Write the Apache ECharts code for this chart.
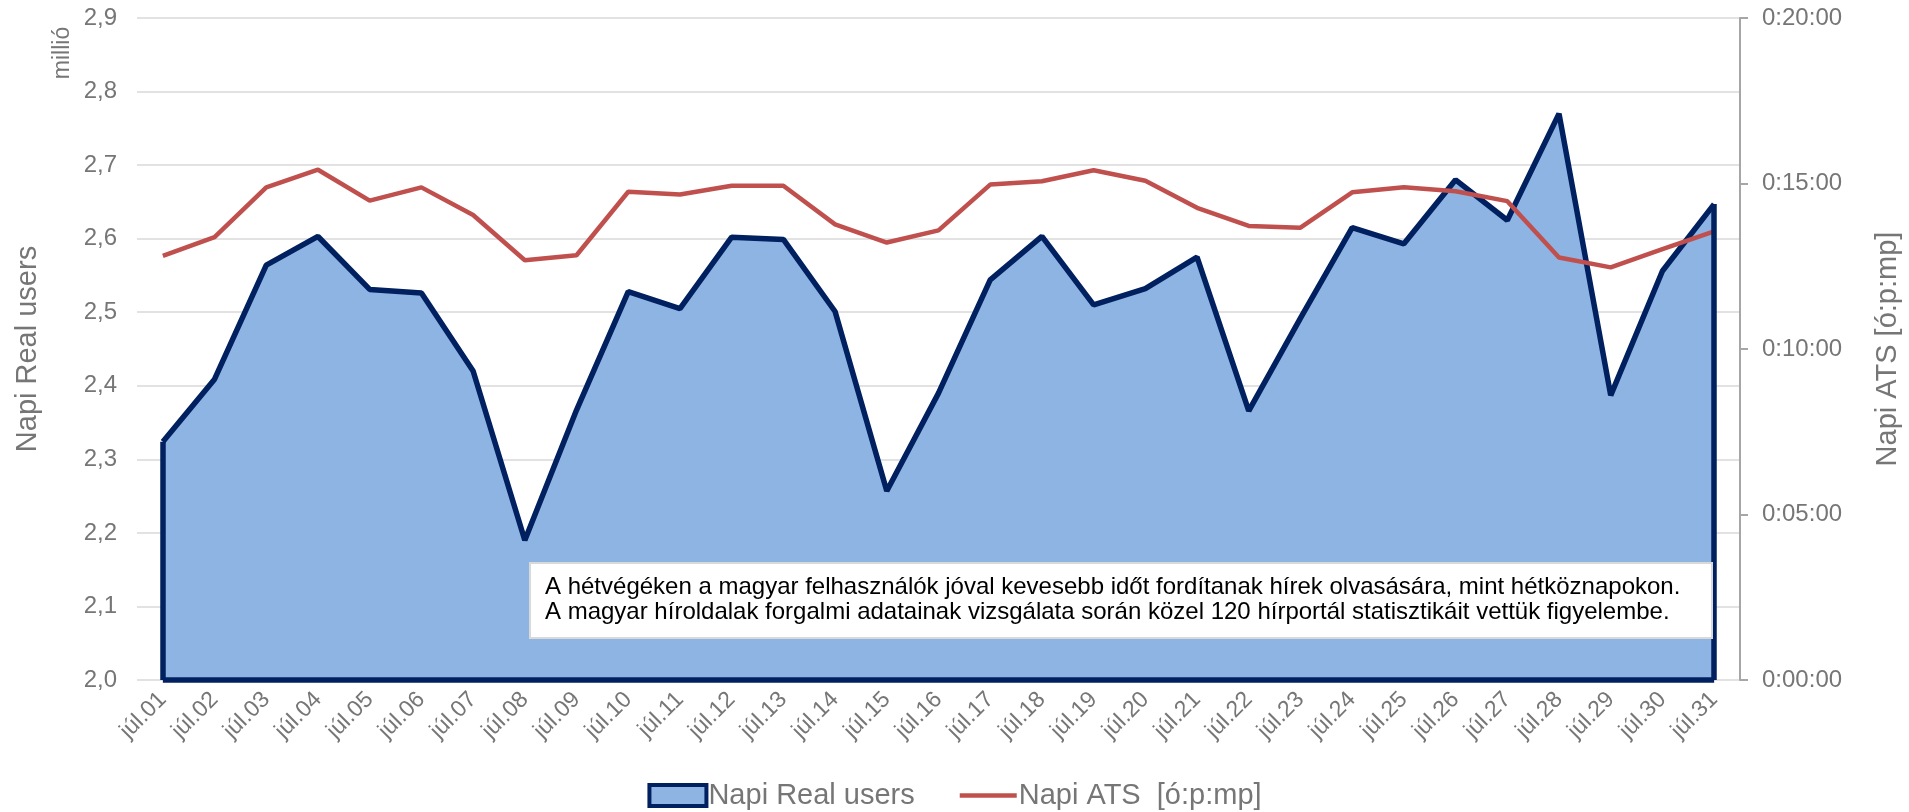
<!DOCTYPE html>
<html lang="hu">
<head>
<meta charset="UTF-8">
<title>Napi Real users / ATS</title>
<script src="https://cdn.jsdelivr.net/npm/echarts@6/dist/echarts.min.js"></script>
<style>
    html, body { margin: 0; padding: 0; background: #fff; }
    #chart { width: 1909px; height: 812px; }
</style>
</head>
<body>
<div id="chart"></div>
<script type="text/javascript">
    // július napjai
    let days = ['júl.01', 'júl.02', 'júl.03', 'júl.04', 'júl.05', 'júl.06', 'júl.07', 'júl.08', 'júl.09', 'júl.10',
        'júl.11', 'júl.12', 'júl.13', 'júl.14', 'júl.15', 'júl.16', 'júl.17', 'júl.18', 'júl.19', 'júl.20',
        'júl.21', 'júl.22', 'júl.23', 'júl.24', 'júl.25', 'júl.26', 'júl.27', 'júl.28', 'júl.29', 'júl.30', 'júl.31'];
    // napi real users, millió
    let realUsers = [2.324, 2.409, 2.564, 2.603, 2.531, 2.526, 2.420, 2.190, 2.367, 2.528,
        2.505, 2.602, 2.599, 2.501, 2.257, 2.390, 2.544, 2.603, 2.510, 2.532,
        2.575, 2.366, 2.492, 2.615, 2.593, 2.680, 2.625, 2.770, 2.387, 2.556, 2.647];
    // napi ATS, másodperc
    let atsSeconds = [769, 803, 893, 925, 869, 893, 843, 761, 770, 885,
        880, 896, 896, 826, 793, 815, 898, 904, 924, 905,
        856, 823, 820, 884, 893, 886, 868, 766, 748, 781, 813];
    let usersMin = 2.0;
    let usersMax = 2.9;
    let atsMax = 1200;

    let noteLines = [
        'A hétvégéken a magyar felhasználók jóval kevesebb időt fordítanak hírek olvasására, mint hétköznapokon.',
        'A magyar híroldalak forgalmi adatainak vizsgálata során közel 120 hírportál statisztikáit vettük figyelembe.'
    ];

    let font = '"Liberation Sans", Arial, sans-serif';
    let grey = '#767676';

    function pad(n) {
        return (n < 10 ? '0' : '') + n;
    }

    function toHms(v) {
        return Math.floor(v / 3600) + ':' + pad(Math.floor((v % 3600) / 60)) + ':' + pad(v % 60);
    }

    let chart = echarts.init(document.getElementById('chart'));
    let last = days.length - 1;

    let option = {
        backgroundColor: '#fff',
        animation: false,
        textStyle: {fontFamily: font},
        grid: {
            left: 137,
            right: 169,
            top: 18,
            bottom: 132,
            outerBoundsMode: 'none'
        },
        legend: {
            top: 776,
            left: 'center',
            itemWidth: 57,
            itemHeight: 21,
            itemGap: 45,
            textStyle: {color: grey, fontSize: 29, fontFamily: font, padding: [0, 0, 0, -3]},
            data: [
                {
                    name: 'Napi Real users',
                    icon: 'rect',
                    itemStyle: {color: '#8eb4e3', borderColor: '#002060', borderWidth: 4}
                },
                {
                    name: 'Napi ATS  [ó:p:mp]',
                    icon: 'path://M0,0 L57,0 L57,4.5 L0,4.5 Z',
                    itemStyle: {color: '#c0504d', borderWidth: 0}
                }
            ]
        },
        xAxis: {
            type: 'category',
            boundaryGap: true,
            data: days,
            axisLine: {show: false},
            axisTick: {show: false},
            axisLabel: {
                rotate: 45,
                interval: 0,
                margin: 16,
                color: grey,
                fontSize: 23,
                fontFamily: font
            }
        },
        yAxis: [
            {
                type: 'value',
                min: usersMin,
                max: usersMax,
                interval: 0.1,
                name: 'Napi Real users',
                nameLocation: 'middle',
                nameRotate: 90,
                nameGap: 95,
                nameTextStyle: {color: grey, fontSize: 29, fontFamily: font},
                axisLine: {show: false},
                axisTick: {show: false},
                axisLabel: {
                    color: grey,
                    fontSize: 24,
                    fontFamily: font,
                    margin: 20,
                    formatter: function (v) {
                        return v.toFixed(1).replace('.', ',');
                    }
                },
                splitLine: {lineStyle: {color: '#d9d9d9', width: 1.5}}
            },
            {
                type: 'value',
                min: 0,
                max: atsMax,
                interval: 300,
                position: 'right',
                name: 'Napi ATS [ó:p:mp]',
                nameLocation: 'middle',
                nameRotate: 90,
                nameGap: 133,
                nameTextStyle: {color: grey, fontSize: 29, fontFamily: font},
                axisLine: {show: true, lineStyle: {color: '#a6a6a6', width: 2}},
                axisTick: {show: true, inside: false, length: 8, lineStyle: {color: '#a6a6a6', width: 2}},
                axisLabel: {
                    color: grey,
                    fontSize: 24,
                    fontFamily: font,
                    margin: 22,
                    formatter: toHms
                },
                splitLine: {show: false}
            }
        ],
        graphic: [
            {
                type: 'text',
                x: 63,
                y: 53,
                rotation: Math.PI / 2,
                style: {
                    text: 'millió',
                    font: '23px ' + font,
                    fill: grey,
                    align: 'center',
                    verticalAlign: 'middle'
                }
            },
            {
                type: 'rect',
                z: 100,
                shape: {x: 530, y: 563, width: 1182, height: 75},
                style: {fill: '#fff', stroke: '#d9d9d9', lineWidth: 2}
            },
            {
                type: 'text',
                z: 101,
                x: 545,
                y: 575,
                style: {
                    text: noteLines.join('\n'),
                    font: '24px ' + font,
                    lineHeight: 25,
                    fill: '#000',
                    align: 'left',
                    verticalAlign: 'top'
                }
            }
        ],
        series: [
            {
                name: 'Napi Real users',
                type: 'line',
                yAxisIndex: 0,
                data: realUsers,
                symbol: 'none',
                z: 2,
                lineStyle: {color: '#002060', width: 5.5},
                itemStyle: {color: '#002060'},
                areaStyle: {color: '#8eb4e3', opacity: 1},
                markLine: {
                    silent: true,
                    symbol: 'none',
                    animation: false,
                    label: {show: false},
                    lineStyle: {color: '#002060', width: 5.5, type: 'solid'},
                    data: [
                        [{coord: [days[0], usersMin]}, {coord: [days[0], realUsers[0]]}],
                        [{coord: [days[0], usersMin]}, {coord: [days[last], usersMin]}],
                        [{coord: [days[last], usersMin]}, {coord: [days[last], realUsers[last]]}]
                    ]
                }
            },
            {
                name: 'Napi ATS  [ó:p:mp]',
                type: 'line',
                yAxisIndex: 1,
                data: atsSeconds,
                symbol: 'none',
                z: 3,
                lineStyle: {color: '#c0504d', width: 4.5},
                itemStyle: {color: '#c0504d'}
            }
        ]
    };
    chart.setOption(option);
</script>
</body>
</html>
